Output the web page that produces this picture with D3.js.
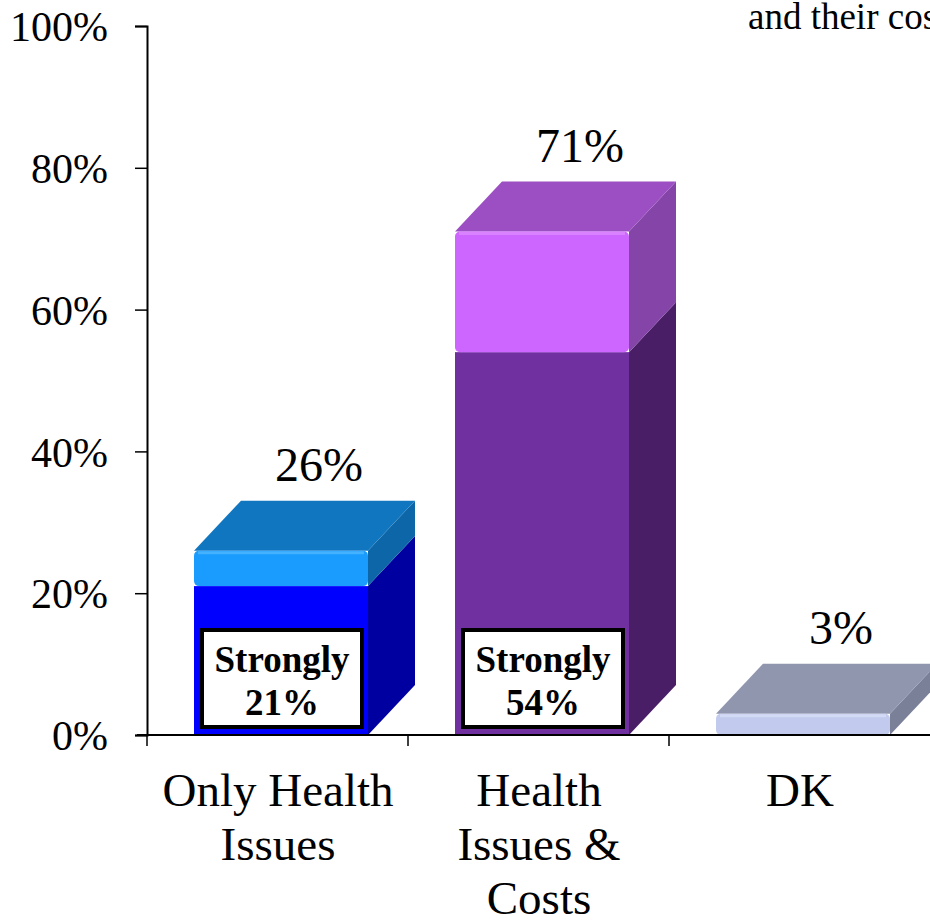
<!DOCTYPE html>
<html>
<head>
<meta charset="utf-8">
<script src="https://cdn.jsdelivr.net/npm/d3@7"></script>
<style>
  body { margin: 0; background: #fff; }
  svg { display: block; }
  text { font-family: "Liberation Serif", "Times New Roman", serif; fill: #000; }
</style>
</head>
<body>
<div id="chart"></div>
<script>
// chart values
const categories = ["Only Health Issues", "Health Issues & Costs", "DK"];
const categoryLines = [["Only Health", "Issues"], ["Health", "Issues &", "Costs"], ["DK"]];
const totals = [26, 71, 3];
const strongly = [21, 54, null];
const tickValues = [0, 20, 40, 60, 80, 100];

// colours: front upper / front lower / top face / side upper / side lower
const palette = [
  { frontTop: "#1a9cff", frontBot: "#0000ff", top: "#1176c0", sideTop: "#0d66a8", sideBot: "#0000a0", rim: "#4fb8ff" },
  { frontTop: "#cc66ff", frontBot: "#7030a0", top: "#9c4fc2", sideTop: "#8444a8", sideBot: "#4a1e66", rim: "#dd88ff" },
  { frontTop: "#c2caee", frontBot: "#c2caee", top: "#9096ae", sideTop: "#7a8098", sideBot: "#7a8098", rim: "#d8def8" }
];

const W = 930, H = 921;
const margin = { left: 147, top: 26, bottom: 186 };
const depthX = 47, depthY = -50, frontW = 174, frontOffset = 47;

const svg = d3.select("#chart").append("svg").attr("width", W).attr("height", H);

const y = d3.scaleLinear().domain([0, 100]).range([H - margin.bottom, margin.top]);
const x = d3.scaleBand().domain(categories).range([margin.left, W]).padding(0);

// title fragment clipped at right edge
svg.append("text").attr("x", 748).attr("y", 29)
  .style("font-size", "37px").text("and their costs");

// bars
categories.forEach((c, i) => {
  const p = palette[i];
  const xl = x(c) + frontOffset, xr = xl + frontW;
  const y0 = y(0), yT = y(totals[i]);
  const yS = strongly[i] != null ? y(strongly[i]) : y0;
  const g = svg.append("g");

  const side = (ya, yb, fill) => g.append("polygon")
    .attr("points", [[xr, yb], [xr + depthX, yb + depthY], [xr + depthX, ya + depthY], [xr, ya]].join(" "))
    .attr("fill", fill);

  // side faces
  if (strongly[i] != null) side(yS, y0, p.sideBot);
  side(yT, yS, p.sideTop);

  // top face
  g.append("polygon")
    .attr("points", [[xl, yT], [xl + depthX, yT + depthY], [xr + depthX, yT + depthY], [xr, yT]].join(" "))
    .attr("fill", p.top);

  // front faces
  if (strongly[i] != null) {
    g.append("rect").attr("x", xl).attr("y", yS).attr("width", frontW).attr("height", y0 - yS).attr("fill", p.frontBot);
  }
  g.append("rect").attr("x", xl).attr("y", yT).attr("width", frontW).attr("height", yS - yT)
    .attr("rx", 5).attr("fill", p.frontTop);
  // soft rim highlight along the top edge
  g.append("line").attr("x1", xl + 4).attr("x2", xr - 4).attr("y1", yT + 2).attr("y2", yT + 2)
    .attr("stroke", p.rim).attr("stroke-width", 3).attr("opacity", 0.8);

  // value label
  svg.append("text")
    .attr("x", xl + frontW / 2 + 38).attr("y", yT + depthY - 20)
    .attr("text-anchor", "middle").style("font-size", "48px")
    .text(totals[i] + "%");

  // strongly box
  if (strongly[i] != null) {
    const bx = xl + 8, bw = frontW - 14, by = y0 - 105, bh = 97;
    svg.append("rect").attr("x", bx).attr("y", by).attr("width", bw).attr("height", bh)
      .attr("fill", "#fff").attr("stroke", "#000").attr("stroke-width", 4);
    svg.append("text").attr("x", bx + bw / 2).attr("y", by + 42)
      .attr("text-anchor", "middle").style("font-size", "37px").style("font-weight", "bold")
      .text("Strongly");
    svg.append("text").attr("x", bx + bw / 2).attr("y", by + 85)
      .attr("text-anchor", "middle").style("font-size", "37px").style("font-weight", "bold")
      .text(strongly[i] + "%");
  }
});

// y axis
const yAxis = svg.append("g").attr("transform", `translate(${margin.left},0)`)
  .call(d3.axisLeft(y).tickValues(tickValues).tickFormat(d => d + "%").tickSizeOuter(0).tickSize(12).tickPadding(27));
yAxis.select(".domain").attr("stroke", "#000").attr("stroke-width", 2);
yAxis.selectAll(".tick line").attr("stroke", "#000").attr("stroke-width", 1.5);
yAxis.selectAll(".tick text").style("font-family", "Liberation Serif, serif").style("font-size", "42px")
  .attr("dy", "0.35em").attr("fill", "#000");

// x axis line and ticks between categories
svg.append("line").attr("x1", margin.left - 10).attr("x2", W).attr("y1", y(0)).attr("y2", y(0))
  .attr("stroke", "#000").attr("stroke-width", 2);
categories.forEach(c => {
  svg.append("line").attr("x1", x(c)).attr("x2", x(c)).attr("y1", y(0)).attr("y2", y(0) + 11)
    .attr("stroke", "#000").attr("stroke-width", 1.5);
});

// category labels
categories.forEach((c, i) => {
  const t = svg.append("text").attr("text-anchor", "middle").style("font-size", "47px");
  categoryLines[i].forEach((line, j) => {
    t.append("tspan").attr("x", x(c) + frontOffset + frontW / 2 - 3)
      .attr("y", 806 + j * 54).text(line);
  });
});
</script>
</body>
</html>
